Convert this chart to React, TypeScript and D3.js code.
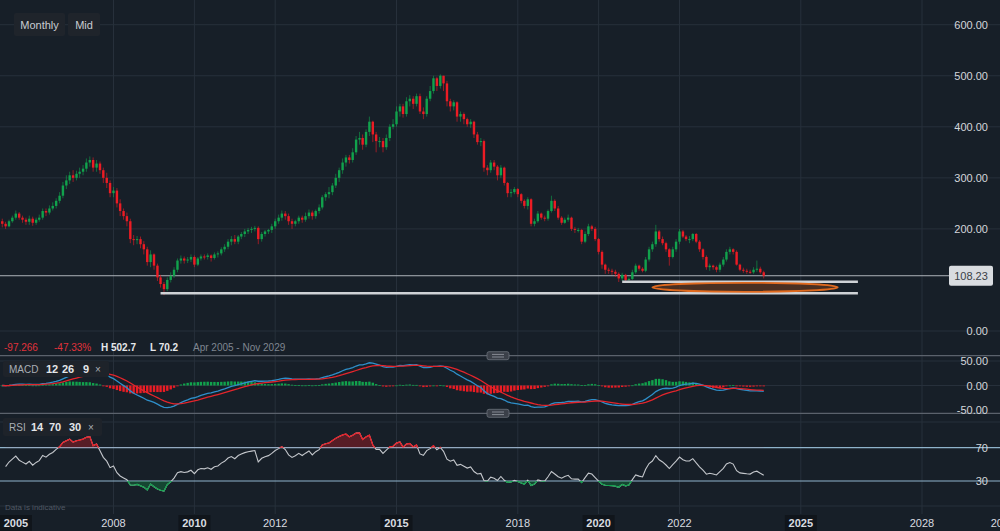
import React from 'react';
import * as d3 from 'd3';

const W = 1000;
const H = 531;

// Monthly candles starting April 2005
const startYear = 2005;
const startMonth = 3; // April (0-based)

const closes = [
  210, 205, 215, 222, 230, 222, 218, 214, 220, 212, 218, 222, 235, 232, 240, 245,
  255, 265, 285, 295, 305, 300, 308, 312, 318, 330, 335, 320, 328, 315, 300, 290,
  270, 275, 250, 235, 225, 215, 180, 178, 180, 170, 160, 135, 150, 128, 105, 92,
  82, 100, 108, 120, 138, 142, 138, 140, 145, 130, 142, 146, 145, 148, 143, 150,
  152, 160, 165, 175, 180, 175, 185, 190, 195, 198, 200, 202, 180, 190, 195, 198,
  205, 215, 222, 230, 225, 215, 210, 215, 222, 218, 225, 232, 225, 235, 242, 262,
  268, 272, 285, 300, 315, 330, 340, 335, 350, 375, 378, 365, 390, 410, 385, 372,
  372, 360, 378, 400, 405, 430, 440, 425, 450, 455, 445, 460, 430, 425, 455, 470,
  495, 480, 500, 485, 450, 440, 448, 420, 425, 415, 405, 410, 385, 370, 372, 320,
  315, 330, 322, 305, 320, 290, 270, 272, 278, 268, 255, 245, 258, 210, 215, 230,
  222, 220, 235, 255, 240, 222, 212, 218, 222, 200, 198, 198, 175, 190, 205, 200,
  180, 155, 130, 120, 118, 116, 112, 103, 110, 100, 102, 115, 128, 122, 118, 140,
  160, 170, 195, 180, 172, 160, 145, 160, 175, 195, 185, 180, 180, 190, 175, 160,
  145, 125, 128, 125, 120, 130, 140, 155, 160, 155, 130, 120, 118, 116, 115, 120,
  122, 115, 108.23,
];

const highs = [
  220, 214, 218, 226, 236, 233, 226, 222, 226, 224, 222, 228, 240, 240, 246, 252,
  260, 272, 292, 305, 312, 315, 314, 320, 325, 338, 342, 340, 335, 332, 320, 310,
  295, 282, 280, 258, 240, 232, 220, 188, 186, 185, 176, 165, 158, 152, 132, 110,
  96, 105, 115, 125, 142, 148, 146, 145, 150, 148, 145, 150, 150, 152, 150, 154,
  156, 164, 170, 180, 186, 188, 188, 194, 200, 202, 204, 206, 205, 194, 198, 200,
  210, 220, 228, 236, 235, 230, 220, 218, 226, 226, 232, 238, 236, 238, 248, 266,
  272, 282, 290, 308, 320, 338, 345, 345, 358, 382, 390, 385, 395, 420, 412, 390,
  380, 378, 385, 405, 415, 440, 445, 445, 458, 462, 460, 465, 465, 438, 460, 480,
  500, 498, 502.7, 500, 490, 455, 452, 450, 430, 428, 418, 415, 412, 390, 378, 375,
  325, 335, 335, 325, 325, 322, 292, 278, 282, 280, 270, 258, 262, 260, 220, 235,
  232, 226, 238, 265, 258, 245, 225, 222, 228, 224, 204, 202, 200, 195, 210, 208,
  204, 182, 158, 132, 124, 122, 120, 115, 114, 112, 105, 120, 132, 130, 125, 145,
  165, 175, 208, 198, 185, 175, 162, 165, 180, 200, 198, 188, 186, 192, 192, 178,
  162, 148, 132, 130, 128, 134, 145, 160, 165, 162, 158, 132, 124, 122, 120, 125,
  138, 126, 118,
];

const lows = [
  203, 200, 203, 212, 218, 218, 212, 208, 208, 206, 208, 214, 218, 225, 228, 236,
  240, 250, 260, 278, 288, 292, 295, 300, 305, 312, 322, 312, 312, 308, 290, 280,
  262, 262, 242, 225, 218, 205, 172, 168, 170, 162, 150, 128, 125, 120, 98, 85,
  70.2, 78, 95, 104, 115, 132, 132, 133, 135, 125, 127, 138, 140, 140, 136, 140,
  144, 148, 155, 160, 168, 170, 170, 180, 184, 190, 192, 195, 170, 175, 185, 190,
  192, 200, 210, 216, 218, 208, 200, 205, 210, 212, 214, 220, 218, 220, 230, 238,
  255, 260, 266, 280, 292, 308, 322, 328, 330, 345, 365, 355, 360, 382, 370, 350,
  360, 350, 355, 372, 395, 400, 420, 418, 420, 440, 435, 440, 425, 415, 420, 450,
  465, 470, 475, 470, 440, 430, 432, 410, 410, 405, 400, 398, 378, 365, 362, 312,
  305, 310, 315, 295, 300, 285, 262, 262, 268, 262, 250, 240, 238, 205, 205, 212,
  218, 215, 216, 232, 235, 218, 208, 210, 214, 196, 192, 193, 170, 172, 186, 196,
  176, 150, 122, 112, 112, 110, 106, 96, 98, 96, 96, 100, 112, 118, 115, 115,
  136, 155, 165, 175, 168, 155, 128, 142, 155, 170, 182, 176, 172, 176, 172, 155,
  140, 120, 118, 120, 115, 115, 126, 136, 150, 150, 128, 117, 114, 112, 112, 112,
  116, 112, 103,
];

const firstOpen = 215;

const yearTicks = [2005, 2008, 2010, 2012, 2015, 2018, 2020, 2022, 2025, 2028, 2030];
const boxedYears = [2005, 2010, 2015, 2020, 2025];
const priceTicks = [0, 200, 300, 400, 500, 600];
const macdTicks = [50, 0, -50];
const rsiLevels = [70, 30];
const lastPrice = 108.23;

const supportLines = [
  { fromY: 2020, fromM: 7, toY: 2026, toM: 5, price: 96.6 },
  { fromY: 2009, fromM: 2, toY: 2026, toM: 5, price: 73.9 },
];
const zone = { fromY: 2021, fromM: 4, toY: 2025, toM: 11, price: 85.6, half: 8.8 };

const infoItems = [
  { text: '-97.266', color: '#e0323b', x: 4, weight: 400 },
  { text: '-47.33%', color: '#e0323b', x: 54, weight: 400 },
  { text: 'H 502.7', color: '#e6e8eb', x: 101, weight: 700 },
  { text: 'L 70.2', color: '#e6e8eb', x: 150, weight: 700 },
  { text: 'Apr 2005 - Nov 2029', color: '#7f8690', x: 193, weight: 400 },
];

const macdLabel = [
  { text: 'MACD', x: 9, bold: false },
  { text: '12', x: 46, bold: true },
  { text: '26', x: 62, bold: true },
  { text: '9', x: 83, bold: true },
  { text: '×', x: 95, bold: false },
];
const rsiLabel = [
  { text: 'RSI', x: 9, bold: false },
  { text: '14', x: 31, bold: true },
  { text: '70', x: 49, bold: true },
  { text: '30', x: 69, bold: true },
  { text: '×', x: 88, bold: false },
];

const BG = '#171f28';
const GRID = '#27303b';
const GREEN = '#11a24c';
const RED = '#ec1c24';
const FONT = "'Liberation Sans', Arial, sans-serif";

function ema(values: number[], n: number) {
  const k = 2 / (n + 1);
  const out: number[] = [];
  values.forEach((v, i) => {
    out.push(i === 0 ? v : v * k + out[i - 1] * (1 - k));
  });
  return out;
}

function rsi(values: number[], n: number) {
  const diffs = values.slice(1).map((v, i) => v - values[i]);
  const seed = d3.mean(diffs.slice(0, n).map(Math.abs))! / 2;
  let ag = seed;
  let al = seed;
  const out: (number | null)[] = [null];
  diffs.forEach((d) => {
    ag = (ag * (n - 1) + Math.max(d, 0)) / n;
    al = (al * (n - 1) + Math.max(-d, 0)) / n;
    out.push(al === 0 ? 100 : 100 - 100 / (1 + ag / al));
  });
  return out;
}

export default function App() {
  React.useEffect(() => {
    document.body.style.margin = '0';
    document.body.style.background = BG;
  }, []);

  const x = d3
    .scaleTime()
    .domain([new Date(2008, 0, 1), new Date(2028, 0, 1)])
    .range([113.5, 922]);
  const yP = d3.scaleLinear().domain([0, 600]).range([331, 24.7]);
  const yM = d3.scaleLinear().domain([-50, 50]).range([410, 361]);
  const yR = d3.scaleLinear().domain([30, 70]).range([481, 447.7]);

  const candles = closes.map((c, i) => {
    const o = i === 0 ? firstOpen : closes[i - 1];
    const date = new Date(startYear, startMonth + i, 1);
    return {
      date,
      o,
      c,
      h: Math.max(highs[i], o, c),
      l: Math.min(lows[i], o, c),
    };
  });

  const e12 = ema(closes, 12);
  const e26 = ema(closes, 26);
  const macd = e12.map((v, i) => v - e26[i]);
  const signal = ema(macd, 9);
  const hist = macd.map((v, i) => v - signal[i]);
  const rsiVals = rsi(closes, 14);

  const rsiPts = candles
    .map((c, i) => ({ date: c.date, v: rsiVals[i] }))
    .filter((p) => p.v !== null) as { date: Date; v: number }[];

  const macdLine = d3
    .line<number>()
    .x((_, i) => x(candles[i].date))
    .y((d) => yM(d));
  const rsiLine = d3
    .line<{ date: Date; v: number }>()
    .x((d) => x(d.date))
    .y((d) => yR(d.v));
  const rsiArea70 = d3
    .area<{ date: Date; v: number }>()
    .x((d) => x(d.date))
    .y0(yR(70))
    .y1((d) => yR(d.v));
  const rsiArea30 = d3
    .area<{ date: Date; v: number }>()
    .x((d) => x(d.date))
    .y0(yR(30))
    .y1((d) => yR(d.v));

  const bw = 2.4;
  const axisX = 988;

  const zx1 = x(new Date(zone.fromY, zone.fromM, 1));
  const zx2 = x(new Date(zone.toY, zone.toM, 1));

  const handle = (cy: number) => (
    <g>
      <rect x={487} y={cy - 4} width={22} height={8} rx={2} fill="#3b4049" stroke="#6c727b" strokeWidth={0.8} />
      <line x1={492} x2={504} y1={cy - 1.3} y2={cy - 1.3} stroke="#9aa0a8" strokeWidth={0.8} />
      <line x1={492} x2={504} y1={cy + 1.3} y2={cy + 1.3} stroke="#9aa0a8" strokeWidth={0.8} />
    </g>
  );

  return (
    <svg
      width={W}
      height={H}
      style={{ position: 'absolute', left: 0, top: 0, display: 'block' }}
      fontFamily={FONT}
    >
      <defs>
        <clipPath id="above70">
          <rect x={0} y={0} width={W} height={yR(70)} />
        </clipPath>
        <clipPath id="below30">
          <rect x={0} y={yR(30)} width={W} height={H - yR(30)} />
        </clipPath>
      </defs>
      <rect width={W} height={H} fill={BG} />

      {/* vertical grid */}
      {yearTicks.map((yr) => {
        const xx = x(new Date(yr, 0, 1));
        if (xx < 1 || xx > W) return null;
        return <line key={yr} x1={xx} x2={xx} y1={0} y2={514} stroke={GRID} strokeWidth={1} />;
      })}

      {/* price grid */}
      {priceTicks.map((p) => (
        <line key={p} x1={0} x2={W} y1={yP(p)} y2={yP(p)} stroke={GRID} strokeWidth={1} />
      ))}

      {/* macd grid */}
      {[50, 0].map((v) => (
        <line key={v} x1={0} x2={W} y1={yM(v)} y2={yM(v)} stroke={GRID} strokeWidth={1} />
      ))}
      <line x1={0} x2={W} y1={422} y2={422} stroke={GRID} strokeWidth={1} />
      <line x1={0} x2={W} y1={506} y2={506} stroke={GRID} strokeWidth={1} />

      {/* current price line */}
      <line x1={0} x2={949} y1={yP(lastPrice)} y2={yP(lastPrice)} stroke="#aeb3ba" strokeWidth={1} />

      {/* candles */}
      {candles.map((c, i) => {
        const cx = x(c.date);
        const up = c.c >= c.o;
        const col = up ? GREEN : RED;
        const top = yP(Math.max(c.o, c.c));
        const bot = yP(Math.min(c.o, c.c));
        return (
          <g key={i}>
            <line x1={cx} x2={cx} y1={yP(c.h)} y2={yP(c.l)} stroke={col} strokeOpacity={0.6} strokeWidth={1} />
            <rect x={cx - bw / 2} y={top} width={bw} height={Math.max(1, bot - top)} fill={col} />
          </g>
        );
      })}

      {/* support lines */}
      {supportLines.map((s, i) => (
        <line
          key={i}
          x1={x(new Date(s.fromY, s.fromM, 1))}
          x2={x(new Date(s.toY, s.toM, 1))}
          y1={yP(s.price)}
          y2={yP(s.price)}
          stroke="#cfd2d6"
          strokeWidth={2.5}
        />
      ))}
      <ellipse
        cx={(zx1 + zx2) / 2}
        cy={yP(zone.price)}
        rx={(zx2 - zx1) / 2}
        ry={yP(zone.price - zone.half) - yP(zone.price)}
        fill="#5c3520"
        fillOpacity={0.75}
        stroke="#e06a1f"
        strokeWidth={1.8}
      />

      {/* right price axis */}
      {priceTicks.map((p) => (
        <text key={p} x={axisX} y={yP(p) + 4} fontSize={11} fill="#d3d6db" textAnchor="end">
          {p.toFixed(2)}
        </text>
      ))}
      <rect x={949} y={yP(lastPrice) - 10} width={44} height={20} rx={2} fill="#d9dce0" />
      <text x={971} y={yP(lastPrice) + 4} fontSize={11} fill="#3a3f46" textAnchor="middle">
        {lastPrice.toFixed(2)}
      </text>

      {/* top-left buttons */}
      <rect x={14} y={13} width={51} height={23} rx={2} fill="#1f242b" />
      <text x={39.5} y={28.5} fontSize={11} fill="#c9ccd1" textAnchor="middle">Monthly</text>
      <rect x={68} y={13} width={32} height={23} rx={2} fill="#1f242b" />
      <text x={84} y={28.5} fontSize={11} fill="#c9ccd1" textAnchor="middle">Mid</text>

      {/* info row */}
      {infoItems.map((it) => (
        <text key={it.text} x={it.x} y={350.5} fontSize={10} fill={it.color} fontWeight={it.weight}>
          {it.text}
        </text>
      ))}

      {/* panel separators */}
      <line x1={0} x2={W} y1={355.7} y2={355.7} stroke="#5b626c" strokeWidth={1.3} />
      <line x1={0} x2={W} y1={413.3} y2={413.3} stroke="#5b626c" strokeWidth={1.3} />
      {handle(355.7)}
      {handle(413.3)}

      {/* MACD histogram */}
      {hist.map((h, i) => {
        const cx = x(candles[i].date);
        const y0 = yM(0);
        const y1 = yM(h);
        return (
          <rect
            key={i}
            x={cx - bw / 2}
            y={Math.min(y0, y1)}
            width={bw}
            height={Math.max(0.8, Math.abs(y1 - y0))}
            fill={h >= 0 ? GREEN : RED}
          />
        );
      })}
      <path d={macdLine(macd)!} fill="none" stroke="#2f8fc9" strokeWidth={1.3} />
      <path d={macdLine(signal)!} fill="none" stroke="#e3252c" strokeWidth={1.3} />

      {/* MACD axis */}
      {macdTicks.map((v) => (
        <text key={v} x={axisX} y={yM(v) + 4} fontSize={11} fill="#d3d6db" textAnchor="end">
          {v.toFixed(2)}
        </text>
      ))}

      {/* MACD label */}
      <rect x={3} y={361} width={106} height={16} rx={2} fill="#1e232a" />
      {macdLabel.map((t) => (
        <text
          key={t.text}
          x={t.x}
          y={372.5}
          fontSize={t.bold ? 11 : 10}
          fill={t.bold ? '#e4e6e9' : '#a9aeb5'}
          fontWeight={t.bold ? 700 : 400}
        >
          {t.text}
        </text>
      ))}

      {/* RSI levels */}
      {rsiLevels.map((v) => (
        <g key={v}>
          <line x1={0} x2={W} y1={yR(v)} y2={yR(v)} stroke="#8fb3cb" strokeWidth={1.2} />
          <text x={axisX} y={yR(v) + 4} fontSize={11} fill="#d3d6db" textAnchor="end">
            {v}
          </text>
        </g>
      ))}

      {/* RSI */}
      <path d={rsiLine(rsiPts)!} fill="none" stroke="#c4c7cc" strokeWidth={1.1} />
      <g clipPath="url(#above70)">
        <path d={rsiArea70(rsiPts)!} fill={RED} fillOpacity={0.3} />
        <path d={rsiLine(rsiPts)!} fill="none" stroke={RED} strokeWidth={1.2} />
      </g>
      <g clipPath="url(#below30)">
        <path d={rsiArea30(rsiPts)!} fill={GREEN} fillOpacity={0.3} />
        <path d={rsiLine(rsiPts)!} fill="none" stroke={GREEN} strokeWidth={1.2} />
      </g>

      {/* RSI label */}
      <rect x={3} y={418} width={99} height={18} rx={2} fill="#1e232a" />
      {rsiLabel.map((t) => (
        <text
          key={t.text}
          x={t.x}
          y={431}
          fontSize={t.bold ? 11 : 10}
          fill={t.bold ? '#e4e6e9' : '#a9aeb5'}
          fontWeight={t.bold ? 700 : 400}
        >
          {t.text}
        </text>
      ))}

      <text x={5} y={510} fontSize={8} fill="#4f5763">Data is indicative</text>

      {/* time axis */}
      {yearTicks.map((yr) => {
        const xx = Math.max(16, x(new Date(yr, 0, 1)));
        const boxed = boxedYears.includes(yr);
        return (
          <g key={yr}>
            {boxed && <rect x={xx - 16} y={515} width={32} height={16} fill="#10151b" />}
            <text x={xx} y={527} fontSize={11} fill="#d9dce0" textAnchor="middle" fontWeight={boxed ? 700 : 400}>
              {yr}
            </text>
          </g>
        );
      })}
    </svg>
  );
}
